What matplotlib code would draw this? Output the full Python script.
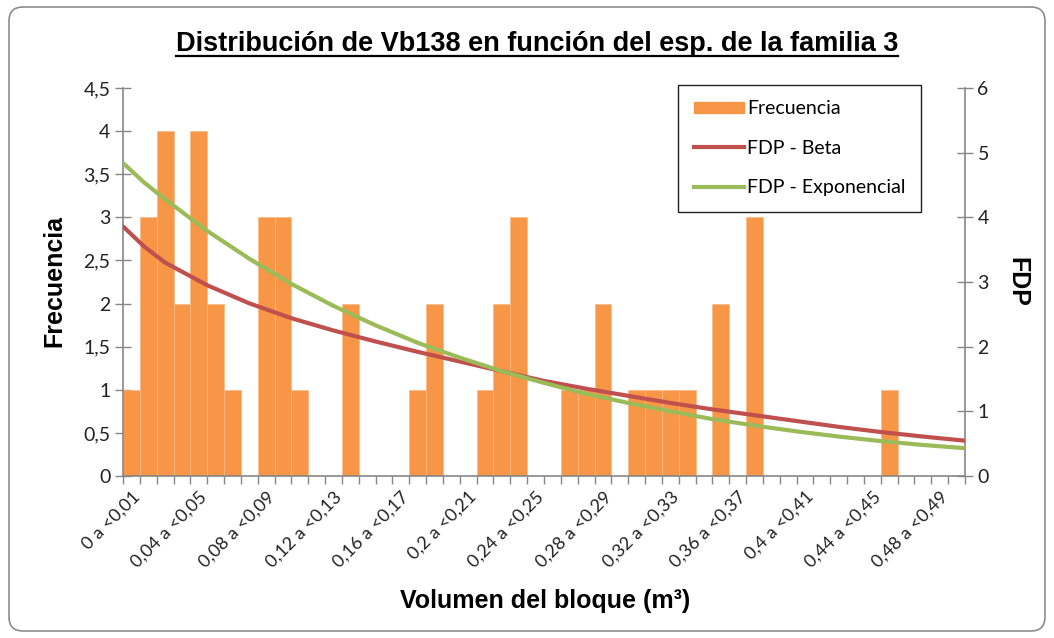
import matplotlib
matplotlib.use("Agg")
import matplotlib.pyplot as plt
from matplotlib.patches import FancyBboxPatch, Patch
from matplotlib.lines import Line2D
from matplotlib.transforms import IdentityTransform
from matplotlib.ticker import FixedLocator, FuncFormatter

# histogram of block volume, bins of 0.01 m3 from 0 to 0.5
bin_width = 0.01
bin_lo = [round(i * bin_width, 2) for i in range(50)]
frecuencia = [1, 3, 4, 2, 4, 2, 1, 0, 3, 3,
              1, 0, 0, 2, 0, 0, 0, 1, 2, 0,
              0, 1, 2, 3, 0, 0, 1, 1, 2, 0,
              1, 1, 1, 1, 0, 2, 0, 3, 0, 0,
              0, 0, 0, 0, 0, 1, 0, 0, 0, 0]
bin_labels = ["%s a <%s" % (("%g" % lo).replace(".", ","),
                            ("%g" % round(lo + bin_width, 2)).replace(".", ","))
              for lo in bin_lo]

# fitted densities (right axis)
x_fdp = [0, 0.0125, 0.025, 0.05, 0.075, 0.1, 0.125, 0.15, 0.175, 0.2, 0.225,
         0.25, 0.275, 0.3, 0.325, 0.35, 0.375, 0.4, 0.425, 0.45, 0.475, 0.5]
fdp_beta = [3.86, 3.55, 3.30, 2.95, 2.67, 2.44, 2.25, 2.08, 1.92, 1.77, 1.62,
            1.47, 1.35, 1.24, 1.13, 1.03, 0.94, 0.85, 0.76, 0.68, 0.61, 0.546]
fdp_expo = [4.84, 4.54, 4.28, 3.79, 3.36, 2.97, 2.63, 2.33, 2.06, 1.83, 1.62,
            1.44, 1.27, 1.13, 1.00, 0.88, 0.78, 0.69, 0.61, 0.54, 0.48, 0.43]

C_BAR = "#F79646"
C_BETA = "#C0504D"
C_EXP = "#9BBB59"
C_AX = "#868686"
TICK_FONT = "Lato"
BOLD_FONT = "Liberation Sans"

fig = plt.figure(figsize=(10.54, 6.38), dpi=100)
ax = fig.add_axes([123 / 1054, 1 - 476 / 638, 842 / 1054, 388 / 638])
ax2 = ax.twinx()

ax.bar(bin_lo, frecuencia, width=bin_width, align="edge", color=C_BAR,
       edgecolor="#F9B985", linewidth=0.5, zorder=2)
ax2.plot(x_fdp, fdp_beta, color=C_BETA, lw=3, solid_capstyle="round", zorder=3)
ax2.plot(x_fdp, fdp_expo, color=C_EXP, lw=3, solid_capstyle="round", zorder=3)

ax.set_xlim(0, 0.5)
ax.set_ylim(0, 4.5)
ax2.set_ylim(0, 6)

# category axis: ticks on bin boundaries, labels every fourth bin
ax.xaxis.set_minor_locator(FixedLocator([i * bin_width for i in range(51)]))
shown = list(range(0, 50, 4))
ax.set_xticks([bin_lo[i] + bin_width / 2 for i in shown])
ax.set_xticklabels([bin_labels[i] for i in shown], rotation=45, ha="right",
                   rotation_mode="anchor", family=TICK_FONT, fontsize=13,
                   color="#222222")
ax.tick_params(axis="x", which="major", length=0, pad=9)
ax.tick_params(axis="x", which="minor", length=6, width=1, color=C_AX,
               direction="out")

ax.set_yticks([i * 0.5 for i in range(10)])
ax.yaxis.set_major_formatter(FuncFormatter(
    lambda v, p: ("%g" % v).replace(".", ",")))
ax.tick_params(axis="y", length=12, width=1, color=C_AX, direction="inout",
               labelsize=14, pad=3, labelcolor="#222222")
for t in ax.get_yticklabels():
    t.set_family(TICK_FONT)

ax2.set_yticks(range(7))
ax2.tick_params(axis="y", length=12, width=1, color=C_AX, direction="inout",
                labelsize=14, pad=3, labelcolor="#222222")
for t in ax2.get_yticklabels():
    t.set_family(TICK_FONT)

for a in (ax, ax2):
    a.spines["top"].set_visible(False)
    for s in ("left", "right", "bottom"):
        a.spines[s].set_color(C_AX)
        a.spines[s].set_linewidth(1.2)
ax.spines["right"].set_visible(False)
ax2.spines["left"].set_visible(False)
ax2.spines["bottom"].set_visible(False)

fig.text(54 / 1054, 1 - 281 / 638, "Frecuencia", rotation=90, ha="center",
         va="center", family=BOLD_FONT, fontweight="bold", fontsize=18)
fig.text(1017 / 1054, 1 - 282 / 638, "FDP", rotation=-90, ha="center",
         va="center", family=BOLD_FONT, fontweight="bold", fontsize=18)
fig.text(545 / 1054, 1 - 601 / 638, "Volumen del bloque (m³)", ha="center",
         va="center", family=BOLD_FONT, fontweight="bold", fontsize=18)

handles = [Patch(color=C_BAR), Line2D([], [], color=C_BETA, lw=3),
           Line2D([], [], color=C_EXP, lw=3)]
leg = ax2.legend(handles, ["Frecuencia", "FDP - Beta", "FDP - Exponencial"],
                 loc="upper left", bbox_to_anchor=(555 / 842, 1.008),
                 borderaxespad=0,
                 prop={"family": TICK_FONT, "size": 14}, frameon=True,
                 fancybox=False, edgecolor="#222222", framealpha=1,
                 handlelength=2.6, handleheight=0.55, handletextpad=0.15,
                 labelspacing=1.15, borderpad=0.8)
leg.get_frame().set_linewidth(1.0)

title = fig.text(537 / 1054, 1 - 44 / 638,
                 "Distribución de Vb138 en función del esp. de la familia 3",
                 ha="center", va="center", family=BOLD_FONT,
                 fontweight="bold", fontsize=19.5)

# underline the title
fig.canvas.draw()
bb = title.get_window_extent()
fig.add_artist(Line2D([bb.x0, bb.x1], [bb.y0 + 1, bb.y0 + 1], color="black",
                      lw=1.6, transform=IdentityTransform()))

# rounded outer frame
fig.add_artist(FancyBboxPatch((9, 7), 1036, 624,
                              boxstyle="round,pad=0,rounding_size=14",
                              facecolor="none", edgecolor="#8C8C8C", lw=1.2,
                              transform=IdentityTransform()))

fig.savefig("out.png", dpi=100)
